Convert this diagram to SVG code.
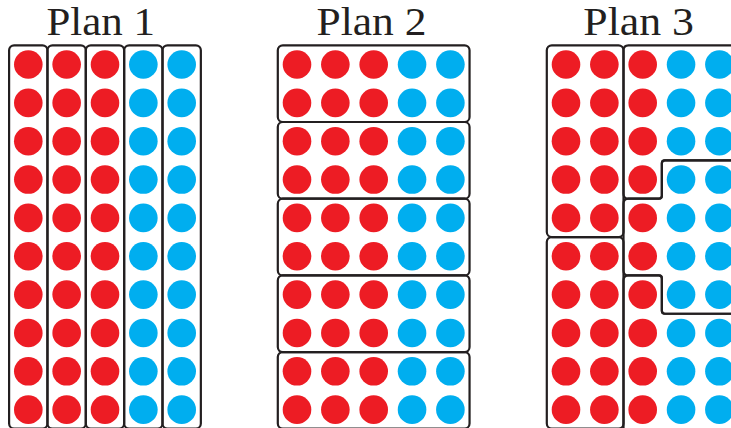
<svg xmlns="http://www.w3.org/2000/svg" xmlns:xlink="http://www.w3.org/1999/xlink" width="731" height="428" viewBox="0 0 731 428">
<style>
.r{fill:#ed1c24}
.b{fill:#00aeef}
.box{fill:none;stroke:#231f20;stroke-width:2.2;stroke-linejoin:round}
.t{font-family:"Liberation Serif","Times New Roman",serif;font-size:39px;fill:#231f20}
</style>
<defs>
<g id="row">
<circle class="r" cx="0" cy="0" r="14.3"/>
<circle class="r" cx="38.35" cy="0" r="14.3"/>
<circle class="r" cx="76.7" cy="0" r="14.3"/>
<circle class="b" cx="115.05" cy="0" r="14.3"/>
<circle class="b" cx="153.4" cy="0" r="14.3"/>
</g>
<g id="grid">
<use xlink:href="#row" href="#row" y="64.5"/>
<use xlink:href="#row" href="#row" y="102.85"/>
<use xlink:href="#row" href="#row" y="141.2"/>
<use xlink:href="#row" href="#row" y="179.55"/>
<use xlink:href="#row" href="#row" y="217.9"/>
<use xlink:href="#row" href="#row" y="256.25"/>
<use xlink:href="#row" href="#row" y="294.6"/>
<use xlink:href="#row" href="#row" y="332.95"/>
<use xlink:href="#row" href="#row" y="371.3"/>
<use xlink:href="#row" href="#row" y="409.65"/>
</g>
</defs>
<rect width="731" height="428" fill="#ffffff"/>

<g id="plan1">
<text class="t" x="46.5" y="35" textLength="108.5" lengthAdjust="spacingAndGlyphs">Plan 1</text>
<use id="plan1-dots" xlink:href="#grid" href="#grid" x="28.3"/>
<g id="p1-box1"><rect class="box" x="9.1" y="45.3" width="38.35" height="383.2" rx="5"/></g>
<g id="p1-box2"><rect class="box" x="47.45" y="45.3" width="38.35" height="383.2" rx="5"/></g>
<g id="p1-box3"><rect class="box" x="85.8" y="45.3" width="38.35" height="383.2" rx="5"/></g>
<g id="p1-box4"><rect class="box" x="124.15" y="45.3" width="38.35" height="383.2" rx="5"/></g>
<g id="p1-box5"><rect class="box" x="162.5" y="45.3" width="38.35" height="383.2" rx="5"/></g>
</g>

<g id="plan2">
<text class="t" x="316.5" y="35" textLength="110" lengthAdjust="spacingAndGlyphs">Plan 2</text>
<use id="plan2-dots" xlink:href="#grid" href="#grid" x="297"/>
<g id="p2-box1"><rect class="box" x="277.8" y="45.3" width="191.75" height="76.7" rx="5"/></g>
<g id="p2-box2"><rect class="box" x="277.8" y="122" width="191.75" height="76.7" rx="5"/></g>
<g id="p2-box3"><rect class="box" x="277.8" y="198.7" width="191.75" height="76.7" rx="5"/></g>
<g id="p2-box4"><rect class="box" x="277.8" y="275.4" width="191.75" height="76.7" rx="5"/></g>
<g id="p2-box5"><rect class="box" x="277.8" y="352.1" width="191.75" height="76.4" rx="5"/></g>
</g>

<g id="plan3">
<text class="t" x="583.3" y="35" textLength="110.7" lengthAdjust="spacingAndGlyphs">Plan 3</text>
<use id="plan3-dots" xlink:href="#grid" href="#grid" x="566"/>
<g id="p3-box1"><rect class="box" x="546.8" y="45.3" width="76.7" height="191.75" rx="5"/></g>
<g id="p3-box2"><rect class="box" x="546.8" y="237.05" width="76.7" height="191.45" rx="5"/></g>
<g id="p3-box3"><path class="box" d="M628.5,45.3 H745 V160.35 H664.85 Q661.85,160.35 661.85,163.35 V195.7 Q661.85,198.7 658.85,198.7 H628.5 Q623.5,198.7 623.5,193.7 V50.3 Q623.5,45.3 628.5,45.3 Z"/></g>
<g id="p3-box4"><path class="box" d="M664.85,160.35 H745 V313.75 H664.85 Q661.85,313.75 661.85,310.75 V278.4 Q661.85,275.4 658.85,275.4 H628.5 Q623.5,275.4 623.5,270.4 V203.7 Q623.5,198.7 628.5,198.7 H658.85 Q661.85,198.7 661.85,195.7 V163.35 Q661.85,160.35 664.85,160.35 Z"/></g>
<g id="p3-box5"><path class="box" d="M664.85,313.75 H745 V440 H623.5 V280.4 Q623.5,275.4 628.5,275.4 H658.85 Q661.85,275.4 661.85,278.4 V310.75 Q661.85,313.75 664.85,313.75 Z"/></g>
</g>
</svg>
